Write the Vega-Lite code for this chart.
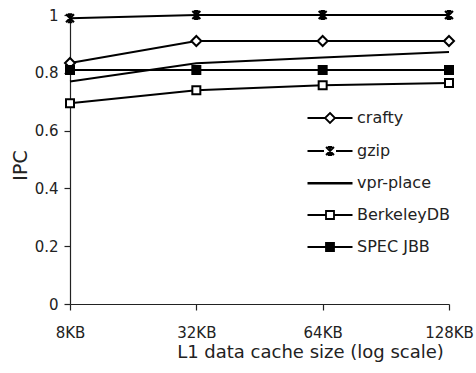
{
  "$schema": "https://vega.github.io/schema/vega-lite/v6.json",
  "width": 379,
  "height": 289,
  "autosize": {"type": "none"},
  "padding": {"left": 70, "top": 15, "right": 27, "bottom": 69},
  "background": "white",
  "config": {
    "view": {"stroke": null},
    "font": "DejaVu Sans",
    "axis": {"grid": false, "domainColor": "#222", "tickColor": "#222", "labelColor": "#222", "titleColor": "#222", "labelFont": "DejaVu Sans", "titleFont": "DejaVu Sans", "titleFontWeight": "normal", "domainWidth": 1.2, "tickWidth": 1.2}
  },
  "data": {
    "values": [
      {"series": "crafty", "cache": "8KB", "ipc": 0.834},
      {"series": "crafty", "cache": "32KB", "ipc": 0.91},
      {"series": "crafty", "cache": "64KB", "ipc": 0.91},
      {"series": "crafty", "cache": "128KB", "ipc": 0.91},
      {"series": "gzip", "cache": "8KB", "ipc": 0.989},
      {"series": "gzip", "cache": "32KB", "ipc": 1.0},
      {"series": "gzip", "cache": "64KB", "ipc": 1.0},
      {"series": "gzip", "cache": "128KB", "ipc": 1.0},
      {"series": "vpr-place", "cache": "8KB", "ipc": 0.77},
      {"series": "vpr-place", "cache": "32KB", "ipc": 0.833},
      {"series": "vpr-place", "cache": "64KB", "ipc": 0.853},
      {"series": "vpr-place", "cache": "128KB", "ipc": 0.872},
      {"series": "BerkeleyDB", "cache": "8KB", "ipc": 0.695},
      {"series": "BerkeleyDB", "cache": "32KB", "ipc": 0.74},
      {"series": "BerkeleyDB", "cache": "64KB", "ipc": 0.757},
      {"series": "BerkeleyDB", "cache": "128KB", "ipc": 0.765},
      {"series": "SPEC JBB", "cache": "8KB", "ipc": 0.81},
      {"series": "SPEC JBB", "cache": "32KB", "ipc": 0.81},
      {"series": "SPEC JBB", "cache": "64KB", "ipc": 0.81},
      {"series": "SPEC JBB", "cache": "128KB", "ipc": 0.81}
    ]
  },
  "encoding": {
    "x": {
      "field": "cache", "type": "ordinal",
      "sort": ["8KB", "32KB", "64KB", "128KB"],
      "scale": {"type": "point", "padding": 0},
      "axis": {"labelAngle": 0, "labelFontSize": 15, "tickSize": 6, "labelPadding": 15, "title": "L1 data cache size  (log scale)", "titleFontSize": 18, "titleX": 240, "titleY": 48, "titleBaseline": "middle"}
    },
    "y": {
      "field": "ipc", "type": "quantitative",
      "scale": {"domain": [0, 1], "nice": false},
      "axis": {"values": [0, 0.2, 0.4, 0.6, 0.8, 1], "format": "~g", "labelFontSize": 15, "tickSize": 6, "labelPadding": 6, "title": "IPC", "titleFontSize": 19, "titleX": -50, "titleY": 150, "titleBaseline": "middle", "titleAngle": -90}
    }
  },
  "layer": [
    {
      "mark": {"type": "line", "color": "black"},
      "encoding": {
        "detail": {"field": "series"},
        "strokeWidth": {"field": "series", "type": "nominal", "scale": {"domain": ["crafty", "gzip", "vpr-place", "BerkeleyDB", "SPEC JBB"], "range": [2, 2, 2.6, 2, 2]}, "legend": null}
      }
    },
    {
      "transform": [{"filter": "datum.series != 'vpr-place'"}],
      "mark": {"type": "point", "filled": true, "size": 100, "opacity": 1},
      "encoding": {
        "stroke": {"value": "black"},
        "strokeWidth": {"value": 2},
        "shape": {"field": "series", "type": "nominal", "scale": {"domain": ["crafty", "gzip", "BerkeleyDB", "SPEC JBB"], "range": ["M0,-1L1,0L0,1L-1,0Z", "M-0.8,-0.8L0.8,0.8M-0.8,0.8L0.8,-0.8M0,-0.8V0.8M-0.45,-0.8H0.45M-0.45,0.8H0.45", "M-0.8,-0.8H0.8V0.8H-0.8Z", "M-0.8,-0.8H0.8V0.8H-0.8Z"]}, "legend": null},
        "fill": {"field": "series", "type": "nominal", "scale": {"domain": ["crafty", "gzip", "BerkeleyDB", "SPEC JBB"], "range": ["white", "black", "white", "black"]}, "legend": null}
      }
    },
    {
      "transform": [{"filter": "datum.ipc > 5"}],
      "mark": {"type": "point", "filled": false, "size": 100, "opacity": 1, "stroke": "black", "strokeWidth": 1.8},
      "encoding": {
        "shape": {"field": "series", "type": "nominal", "scale": {"domain": ["crafty", "gzip", "vpr-place", "BerkeleyDB", "SPEC JBB"], "range": [
          "M-4.5,0H-1M1,0H4.5M0,-1L1,0L0,1L-1,0Z",
          "M-4.5,0H-1.2M1.2,0H4.5M-0.8,-0.8L0.8,0.8M-0.8,0.8L0.8,-0.8M0,-0.8V0.8M-0.45,-0.8H0.45M-0.45,0.8H0.45",
          "M-4.5,0H4.5M-4.5,0.1H4.5",
          "M-4.5,0H-0.8M0.8,0H4.5M-0.8,-0.8H0.8V0.8H-0.8Z",
          "M-4.5,0H-0.8M0.8,0H4.5M-0.8,-0.8H0.8V0.8H-0.8Z"
        ]}, "legend": {"orient": "none", "legendX": 252, "legendY": 95, "title": null, "symbolSize": 100, "symbolStrokeWidth": 1.8, "symbolStrokeColor": "black", "symbolOpacity": 1, "labelFontSize": 16, "labelColor": "#222", "labelFont": "DejaVu Sans", "labelOffset": 19, "rowPadding": 16,
          "encode": {"symbols": {"update": {"stroke": {"value": "black"}, "strokeWidth": {"value": 1.8}, "strokeOpacity": {"value": 1}, "opacity": {"value": 1}}}}}},
        "fill": {"field": "series", "type": "nominal", "scale": {"domain": ["crafty", "gzip", "vpr-place", "BerkeleyDB", "SPEC JBB"], "range": ["white", "black", "black", "white", "black"]}, "legend": {"orient": "none", "legendX": 252, "legendY": 95, "title": null, "symbolSize": 100, "symbolStrokeWidth": 1.8, "symbolStrokeColor": "black", "symbolOpacity": 1, "labelFontSize": 16, "labelColor": "#222", "labelFont": "DejaVu Sans", "labelOffset": 19, "rowPadding": 16,
          "encode": {"symbols": {"update": {"stroke": {"value": "black"}, "strokeWidth": {"value": 1.8}, "strokeOpacity": {"value": 1}, "opacity": {"value": 1}}}}}}
      }
    }
  ],
  "resolve": {"scale": {"shape": "independent", "fill": "independent", "strokeWidth": "independent"}}
}
